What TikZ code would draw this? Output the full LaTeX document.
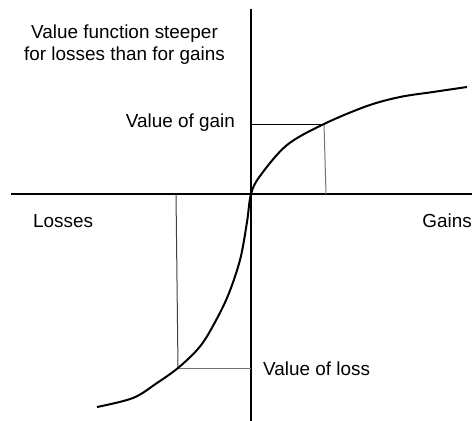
\documentclass[tikz,border=0pt]{standalone}
\usepackage{fontspec}
\setmainfont{Liberation Sans}
\usetikzlibrary{positioning,calc}

\begin{document}
\begin{tikzpicture}[
    x=1pt, y=-1pt,
    axis/.style={line width=2pt, draw=black},
    curve/.style={line width=2pt, draw=black, line join=round},
    guide/.style={line width=1pt, draw=#1},
    guide/.default={black},
    lbl/.style={font=\fontsize{18.9}{22}\selectfont, inner sep=0pt, align=center}
]
\useasboundingbox (0,0) rectangle (472,421);

% Axes
\coordinate (top) at (251,9);
\coordinate (bottom) at (251,421);
\coordinate (left) at (11,194);
\coordinate (right) at (472,194);
\coordinate (origin) at (251,194);
\draw[axis] (top) -- (bottom);
\draw[axis] (left) -- (right);

% Points on the value curve
\coordinate (gain) at (324,124);
\coordinate (loss) at (178,368);

% Guide lines
\draw[guide] (gain) -- (gain -| origin);
\draw[guide=black!55] (gain) -- (326,194);
\draw[guide=black!75] (loss) -- (176,194);
\draw[guide=black!55] (loss) -- (loss -| origin);

% Value function
\draw[curve] plot[smooth, tension=0.55] coordinates {
    (97,407) (133,398) (157,383) (loss) (197,350) (209,333)
    (227,298) (240,260) (247,222) (origin) (260,176) (287,145)
    (gain) (367,106) (400,97) (433,92) (467,87)};

% Labels
\node[lbl, anchor=base] (title) at (124.5,60)
    {Value function steeper\\for losses than for gains};
\node[lbl, anchor=base east] (gainlbl) at (235,127) {Value of gain};
\node[lbl, anchor=base west] (losslbl) at (263,375) {Value of loss};
\node[lbl, anchor=base west] (losses) at (33,227) {Losses};
\node[lbl, anchor=base east] (gains) at (472,227) {Gains};

\end{tikzpicture}
\end{document}
